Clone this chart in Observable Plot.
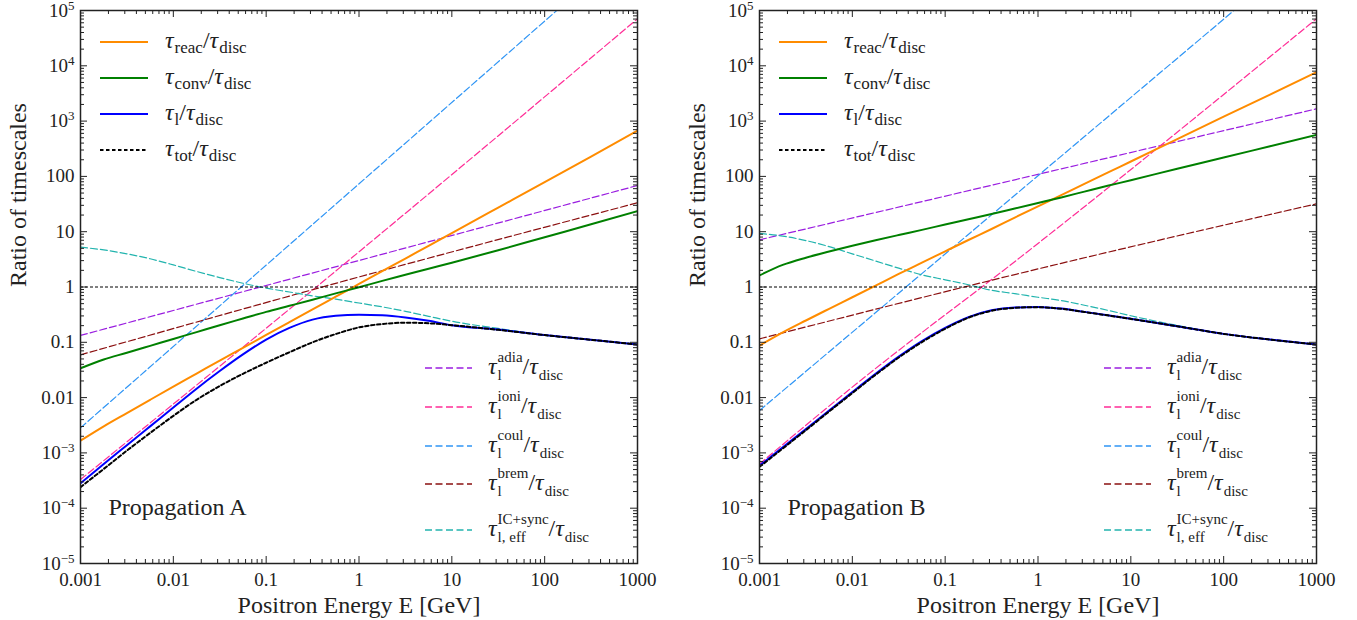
<!DOCTYPE html>
<html><head><meta charset="utf-8">
<script src="https://cdn.jsdelivr.net/npm/d3@7"></script>
<script src="https://cdn.jsdelivr.net/npm/@observablehq/plot@0.6"></script>
<style>
body{margin:0;background:#fff;}
#wrap{display:flex;width:1357px;height:620px;}
</style></head><body><div id="wrap"></div>
<script>
// ---------- shared energy grid (GeV) ----------
const energyGrid = [0.001, 0.00178, 0.00316, 0.00562, 0.01, 0.0178, 0.0316, 0.0562, 0.1, 0.178, 0.316, 0.562, 1, 1.78, 3.16, 5.62, 10, 31.6, 100, 316, 1000];

// ---------- Propagation A ----------
const reacA = [1.66e-3, 3.02e-3, 5.25e-3, 9.12e-3, 0.0158, 0.0272, 0.0468, 0.0794, 0.136, 0.232, 0.394, 0.668, 1.135, 1.93, 3.27, 5.56, 9.44, 27.2, 78.5, 229, 676];
const convA = [0.0339, 0.049, 0.0646, 0.0861, 0.115, 0.153, 0.204, 0.269, 0.355, 0.457, 0.589, 0.767, 0.989, 1.29, 1.66, 2.14, 2.75, 4.62, 7.94, 13.6, 23.5];
const lossA = [2.82e-4, 6.31e-4, 1.38e-3, 3.02e-3, 6.61e-3, 0.0145, 0.0302, 0.0603, 0.112, 0.182, 0.257, 0.302, 0.316, 0.309, 0.282, 0.245, 0.204, 0.17, 0.135, 0.111, 0.0912];
const totA  = [2.40e-4, 5.13e-4, 1.10e-3, 2.29e-3, 4.68e-3, 9.12e-3, 0.0162, 0.0269, 0.0427, 0.0661, 0.1, 0.141, 0.186, 0.214, 0.226, 0.221, 0.204, 0.168, 0.135, 0.111, 0.0912];
const icA   = [5.25, 4.68, 3.98, 3.24, 2.51, 1.91, 1.48, 1.17, 0.955, 0.813, 0.692, 0.603, 0.513, 0.437, 0.363, 0.295, 0.240, 0.178, 0.135, 0.111, 0.0912];
const adiaA_E = [0.001, 1000];          const adiaA = [0.133, 68.4];
const ioniA_E = [0.001, 0.632, 1000];   const ioniA = [3.3e-4, 2.29, 7.08e4];
const coulA_E = [0.001, 1000];          const coulA = [2.84e-3, 1.9e6];
const bremA_E = [0.001, 0.631, 1000];   const bremA = [0.0593, 1.23, 33.3];

// ---------- Propagation B ----------
const reacB = [0.0871, 0.151, 0.248, 0.403, 0.653, 1.06, 1.72, 2.75, 4.42, 7.08, 11.2, 18.0, 28.8, 45.7, 73.3, 117, 186, 473, 1200, 3020, 7670];
const convB = [1.62, 2.51, 3.39, 4.37, 5.56, 7.0, 8.71, 10.8, 13.5, 16.8, 20.9, 26.3, 33.1, 41.7, 53.1, 67.6, 85.1, 138, 219, 351, 562];
const lossB = [5.89e-4, 1.26e-3, 2.69e-3, 5.82e-3, 0.0126, 0.0269, 0.055, 0.105, 0.182, 0.285, 0.38, 0.427, 0.437, 0.407, 0.355, 0.309, 0.266, 0.195, 0.142, 0.112, 0.0912];
const totB  = [5.6e-4, 1.2e-3, 2.58e-3, 5.6e-3, 0.0121, 0.0259, 0.053, 0.101, 0.176, 0.278, 0.372, 0.42, 0.432, 0.404, 0.353, 0.307, 0.265, 0.195, 0.142, 0.112, 0.0912];
const icB   = [9.33, 8.32, 6.92, 5.37, 3.98, 2.95, 2.19, 1.66, 1.35, 1.10, 0.871, 0.759, 0.653, 0.569, 0.468, 0.380, 0.302, 0.202, 0.142, 0.112, 0.0912];
const adiaB_E = [0.001, 1000];                 const adiaB = [7.13, 1667];
const ioniB_E = [0.001, 0.01225, 0.649, 1000]; const ioniB = [6.3e-4, 0.0204, 3.47, 7.08e4];
const coulB_E = [0.001, 1000];                 const coulB = [5.85e-3, 1.81e6];
const bremB_E = [0.001, 0.649, 1000];          const bremB = [0.1156, 1.78, 31.9];

// ---------- axes ----------
const xMajor = [0.001, 0.01, 0.1, 1, 10, 100, 1000];
const xTickLabels = ["0.001", "0.01", "0.1", "1", "10", "100", "1000"];
const yMajor = [1e-5, 1e-4, 1e-3, 0.01, 0.1, 1, 10, 100, 1e3, 1e4, 1e5];
const yTickLabels = ["10^−5", "10^−4", "10^−3", "0.01", "0.1", "1", "10", "100", "10^3", "10^4", "10^5"];
const minorSubs = [2, 3, 4, 5, 6, 7, 8, 9];

const colors = {reac: "#ff8c00", conv: "#008000", loss: "#0000ff", tot: "#000000",
  adia: "#9a1ee0", ioni: "#ff2d96", coul: "#2f95f5", brem: "#8b1010", ic: "#22b4ae"};

const FONT = "Liberation Serif";

function minorOf(majors) {
  const out = [];
  for (let i = 0; i < majors.length - 1; i++) for (const s of minorSubs) out.push(majors[i] * s);
  return out;
}

function rows(E, v) { return E.map((e, i) => ({E: e, v: v[i]})); }

// text with sub/superscripts in one <text> element
function richText(g, x, y, parts, size, small, subDy, supDy) {
  const t = g.append("text").attr("x", x).attr("y", y).attr("font-size", size)
    .attr("text-anchor", "start").attr("font-family", FONT);
  let cur = 0;
  for (const p of parts) {
    if (p.t !== undefined) {
      const ts = t.append("tspan").attr("dy", -cur).text(p.t);
      if (p.it) ts.attr("font-style", "italic");
      cur = 0;
    } else {
      const sub = t.append("tspan").attr("font-size", small).attr("dx", 1).attr("dy", subDy - cur).text(p.sub);
      cur = subDy;
      if (p.sup) {
        const w = sub.node().getComputedTextLength();
        t.append("tspan").attr("font-size", small).attr("dx", -w).attr("dy", supDy - subDy).text(p.sup);
        cur = supDy;
      }
    }
  }
}

function panel(cfg) {
  const W = cfg.width, H = 620, mt = 10, mb = 57, ml = cfg.ml, mr = cfg.mr;
  const fw = W - ml - mr, fh = H - mt - mb;
  const solid = [
    {k: "reac", d: rows(energyGrid, cfg.reac)},
    {k: "conv", d: rows(energyGrid, cfg.conv)},
    {k: "loss", d: rows(energyGrid, cfg.loss)}
  ];
  const dashed = [
    {k: "adia", d: rows(cfg.adiaE, cfg.adia)},
    {k: "ioni", d: rows(cfg.ioniE, cfg.ioni)},
    {k: "coul", d: rows(cfg.coulE, cfg.coul)},
    {k: "brem", d: rows(cfg.bremE, cfg.brem)},
    {k: "ic", d: rows(energyGrid, cfg.ic)}
  ];
  const xMinor = minorOf(xMajor), yMinor = minorOf(yMajor);
  const yLab = new Map(yMajor.map((v, i) => [v, yTickLabels[i]]));
  const xLab = new Map(xMajor.map((v, i) => [v, xTickLabels[i]]));
  const marks = [];
  for (const s of dashed) marks.push(Plot.line(s.d, {x: "E", y: "v", stroke: colors[s.k], strokeWidth: 1.2, strokeDasharray: "7,3", curve: "monotone-x", clip: true}));
  for (const s of solid) marks.push(Plot.line(s.d, {x: "E", y: "v", stroke: colors[s.k], strokeWidth: 2, curve: "monotone-x", clip: true}));
  marks.push(Plot.line(rows(energyGrid, cfg.tot), {x: "E", y: "v", stroke: colors.tot, strokeWidth: 2, strokeDasharray: "3.5,2.5", curve: "monotone-x", clip: true}));
  marks.push(Plot.ruleY([1], {stroke: "black", strokeWidth: 1, strokeDasharray: "3,2"}));
  marks.push(Plot.tickX(xMajor, {x: d => d, insetTop: fh - 7, stroke: "#222"}));
  marks.push(Plot.tickX(xMajor, {x: d => d, insetBottom: fh - 7, stroke: "#222"}));
  marks.push(Plot.tickX(xMinor, {x: d => d, insetTop: fh - 4, stroke: "#222"}));
  marks.push(Plot.tickX(xMinor, {x: d => d, insetBottom: fh - 4, stroke: "#222"}));
  marks.push(Plot.tickY(yMajor, {y: d => d, insetRight: fw - 7, stroke: "#222"}));
  marks.push(Plot.tickY(yMajor, {y: d => d, insetLeft: fw - 7, stroke: "#222"}));
  marks.push(Plot.tickY(yMinor, {y: d => d, insetRight: fw - 4, stroke: "#222"}));
  marks.push(Plot.tickY(yMinor, {y: d => d, insetLeft: fw - 4, stroke: "#222"}));
  marks.push(Plot.axisX({ticks: xMajor, tickSize: 0, tickPadding: 9, tickFormat: d => xLab.get(d), label: null, fontSize: 19, fontFamily: FONT}));
  marks.push(Plot.axisY({ticks: yMajor, tickSize: 0, tickPadding: 6, tickFormat: d => yLab.get(d), label: null, fontSize: 19, fontFamily: FONT}));
  marks.push(Plot.frame({stroke: "#222", strokeWidth: 1.5}));
  marks.push(Plot.text([cfg.title], {frameAnchor: "bottom-left", textAnchor: "start", lineAnchor: "middle", dx: 28, dy: -56, fontSize: 24, fontFamily: FONT}));
  marks.push(Plot.text(["Ratio of timescales"], {frameAnchor: "left", rotate: -90, dx: -62, fontSize: 24, fontFamily: FONT}));
  marks.push(Plot.text(["Positron Energy E [GeV]"], {frameAnchor: "bottom", lineAnchor: "middle", dy: 42, fontSize: 24, fontFamily: FONT}));

  const svg = Plot.plot({
    width: W, height: H, marginTop: mt, marginBottom: mb, marginLeft: ml, marginRight: mr,
    x: {type: "log", domain: [1e-3, 1e3]},
    y: {type: "log", domain: [1e-5, 1e5]},
    style: {fontFamily: FONT, fontSize: "19px", color: "#222", background: "white", overflow: "visible"},
    marks
  });
  document.getElementById("wrap").appendChild(svg);

  svg.querySelectorAll('[aria-label="y-axis tick label"] text').forEach(t => {
    const s = t.textContent;
    if (s.includes("^")) {
      const [b, e] = s.split("^");
      t.textContent = "";
      const sel = d3.select(t);
      sel.append("tspan").text(b);
      sel.append("tspan").attr("dy", "-7").attr("font-size", "13px").text(e);
    }
  });

  const g = d3.select(svg).append("g").attr("fill", "#222").attr("text-anchor", "start");
  const upper = [
    {k: "reac", dash: null, parts: [{t: "τ", it: true}, {sub: "reac"}, {t: "/"}, {t: "τ", it: true}, {sub: "disc"}]},
    {k: "conv", dash: null, parts: [{t: "τ", it: true}, {sub: "conv"}, {t: "/"}, {t: "τ", it: true}, {sub: "disc"}]},
    {k: "loss", dash: null, parts: [{t: "τ", it: true}, {sub: "l"}, {t: "/"}, {t: "τ", it: true}, {sub: "disc"}]},
    {k: "tot", dash: "3.5,2.5", parts: [{t: "τ", it: true}, {sub: "tot"}, {t: "/"}, {t: "τ", it: true}, {sub: "disc"}]}
  ];
  const upY = [42, 78, 114, 150];
  upper.forEach((r, i) => {
    g.append("line").attr("x1", ml + 20).attr("x2", ml + 68).attr("y1", upY[i]).attr("y2", upY[i])
      .attr("stroke", colors[r.k]).attr("stroke-width", 2).attr("stroke-dasharray", r.dash);
    richText(g, ml + 85, upY[i] + 6, r.parts, 24, 17, 5, -10);
  });
  const lower = [
    {k: "adia", parts: [{t: "τ", it: true}, {sub: "l", sup: "adia"}, {t: "/"}, {t: "τ", it: true}, {sub: "disc"}]},
    {k: "ioni", parts: [{t: "τ", it: true}, {sub: "l", sup: "ioni"}, {t: "/"}, {t: "τ", it: true}, {sub: "disc"}]},
    {k: "coul", parts: [{t: "τ", it: true}, {sub: "l", sup: "coul"}, {t: "/"}, {t: "τ", it: true}, {sub: "disc"}]},
    {k: "brem", parts: [{t: "τ", it: true}, {sub: "l", sup: "brem"}, {t: "/"}, {t: "τ", it: true}, {sub: "disc"}]},
    {k: "ic", parts: [{t: "τ", it: true}, {sub: "l, eff", sup: "IC+sync"}, {t: "/"}, {t: "τ", it: true}, {sub: "disc"}]}
  ];
  const loY = [368, 407, 446, 484, 530];
  lower.forEach((r, i) => {
    g.append("line").attr("x1", ml + 345).attr("x2", ml + 392).attr("y1", loY[i]).attr("y2", loY[i])
      .attr("stroke", colors[r.k]).attr("stroke-width", 1.3).attr("stroke-dasharray", "7,3.5");
    richText(g, ml + 408, loY[i] + 6, r.parts, 24, 15, 6, -12);
  });
}

panel({width: 680, ml: 80, mr: 43, title: "Propagation A",
  reac: reacA, conv: convA, loss: lossA, tot: totA, ic: icA,
  adiaE: adiaA_E, adia: adiaA, ioniE: ioniA_E, ioni: ioniA, coulE: coulA_E, coul: coulA, bremE: bremA_E, brem: bremA});
panel({width: 677, ml: 79, mr: 41, title: "Propagation B",
  reac: reacB, conv: convB, loss: lossB, tot: totB, ic: icB,
  adiaE: adiaB_E, adia: adiaB, ioniE: ioniB_E, ioni: ioniB, coulE: coulB_E, coul: coulB, bremE: bremB_E, brem: bremB});
</script></body></html>
